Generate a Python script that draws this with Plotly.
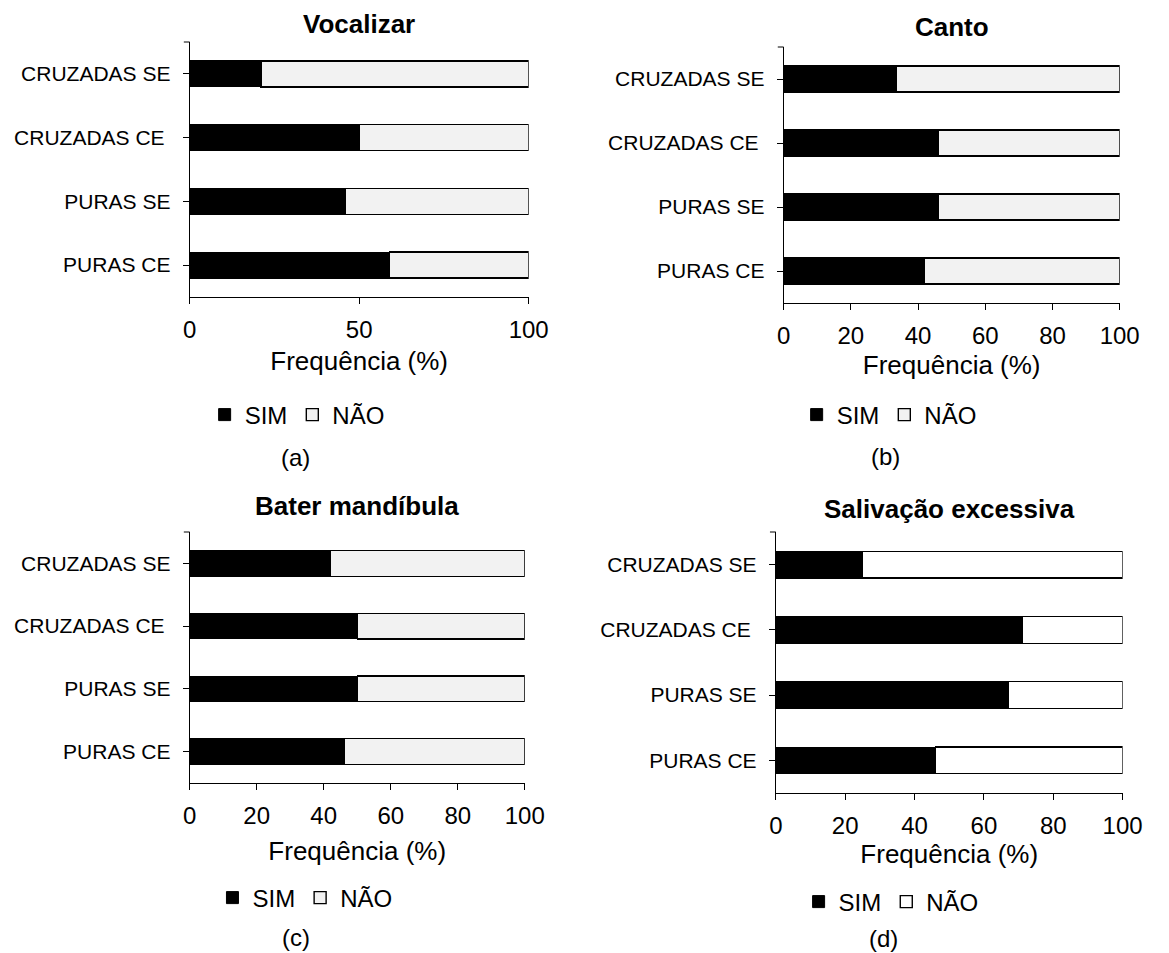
import plotly.graph_objects as go

W, H = 1169, 953

categories = ["PURAS CE", "PURAS SE", "CRUZADAS CE\u00a0", "CRUZADAS SE"]
titles = ["Vocalizar", "Canto", "Bater mandíbula", "Salivação excessiva"]
panel_labels = ["(a)", "(b)", "(c)", "(d)"]
series_names = ["SIM", "NÃO"]
axis_title = "Frequência (%)"

vocalizar_sim = [59, 46, 50, 21]
vocalizar_nao = [41, 54, 50, 79]
canto_sim = [42, 46, 46, 33.5]
canto_nao = [58, 54, 54, 66.5]
bater_sim = [46, 50, 50, 42]
bater_nao = [54, 50, 50, 58]
salivacao_sim = [46, 67, 71, 25]
salivacao_nao = [54, 33, 29, 75]

ticks_a = [0, 50, 100]
ticks_bcd = [0, 20, 40, 60, 80, 100]

panels = [
    dict(sim=vocalizar_sim, nao=vocalizar_nao, ticks=ticks_a, nao_color="#f2f2f2",
         x0=187, x1=534, yt=42, yb=297, ty=24, lx=297, ly=415, px=295, py=457, st=10),
    dict(sim=canto_sim, nao=canto_nao, ticks=ticks_bcd, nao_color="#f2f2f2",
         x0=795, x1=1139, yt=47, yb=303, ty=27, lx=903, ly=415, px=899, py=456, st=8),
    dict(sim=bater_sim, nao=bater_nao, ticks=ticks_bcd, nao_color="#f2f2f2",
         x0=187, x1=530, yt=532, yb=783, ty=506, lx=305, ly=898, px=296, py=937, st=14),
    dict(sim=salivacao_sim, nao=salivacao_nao, ticks=ticks_bcd, nao_color="#ffffff",
         x0=787, x1=1142, yt=532, yb=793, ty=509, lx=905, ly=902, px=897, py=938, st=6),
]

FONT = "Liberation Sans, Arial, sans-serif"
fig = go.Figure()
layout = dict(
    width=W, height=H, margin=dict(l=0, r=0, t=0, b=0),
    paper_bgcolor="white", plot_bgcolor="white",
    barmode="stack", bargap=0.59,
    font=dict(family=FONT, color="black"),
    annotations=[], shapes=[],
)

for i, p in enumerate(panels):
    n = "" if i == 0 else str(i + 1)
    xa, ya = "x" + n, "y" + n
    leg = "legend" + n
    fig.add_trace(go.Bar(
        x=p["sim"], y=categories, orientation="h", name=series_names[0],
        marker=dict(color="black", line=dict(color="black", width=1)),
        xaxis=xa, yaxis=ya, legend=leg, hoverinfo="x+y+name"))
    fig.add_trace(go.Bar(
        x=p["nao"], y=categories, orientation="h", name=series_names[1],
        marker=dict(color=p["nao_color"], line=dict(color="black", width=1.4)),
        xaxis=xa, yaxis=ya, legend=leg, hoverinfo="x+y+name"))

    xdom = [p["x0"] / W, p["x1"] / W]
    ydom = [1 - p["yb"] / H, 1 - p["yt"] / H]
    layout["xaxis" + n] = dict(
        domain=xdom, anchor=ya, range=[0, 100], tickvals=p["ticks"],
        showgrid=False, zeroline=False, showline=True, linecolor="black", linewidth=1,
        ticks="outside", ticklen=6, tickcolor="black",
        tickfont=dict(size=24, family=FONT), ticklabelstandoff=5,
        title=dict(text=axis_title, font=dict(size=26, family=FONT), standoff=p["st"]),
        fixedrange=True,
    )
    layout["yaxis" + n] = dict(
        domain=ydom, anchor=xa, type="category", categoryorder="array",
        categoryarray=categories, range=[-0.5, 3.5],
        showgrid=False, zeroline=False, showline=True, linecolor="black", linewidth=1,
        ticks="outside", ticklen=6, tickcolor="black",
        tickfont=dict(size=21, family=FONT), ticklabelstandoff=8,
        fixedrange=True,
    )
    layout["legend" + n] = dict(
        orientation="h", x=p["lx"] / W, xanchor="center",
        y=1 - p["ly"] / H, yanchor="middle",
        font=dict(size=24, family=FONT), itemwidth=30,
        bgcolor="rgba(0,0,0,0)", traceorder="normal",
        itemclick=False, itemdoubleclick=False,
    )
    # small closing tick at the top of the category axis
    layout["shapes"].append(dict(
        type="line", xref=xa + " domain", yref=ya + " domain",
        x0=-6 / (p["x1"] - p["x0"]), x1=0, y0=1, y1=1,
        line=dict(color="black", width=1)))
    layout["annotations"].append(dict(
        text="<b>" + titles[i] + "</b>", xref="paper", yref="paper",
        x=(p["x0"] + p["x1"]) / 2 / W, y=1 - p["ty"] / H,
        xanchor="center", yanchor="middle", showarrow=False,
        font=dict(size=26, family=FONT, color="black")))
    layout["annotations"].append(dict(
        text=panel_labels[i], xref="paper", yref="paper",
        x=p["px"] / W, y=1 - p["py"] / H,
        xanchor="center", yanchor="middle", showarrow=False,
        font=dict(size=24, family=FONT, color="black")))

fig.update_layout(**layout)
fig.write_html("out.html")
